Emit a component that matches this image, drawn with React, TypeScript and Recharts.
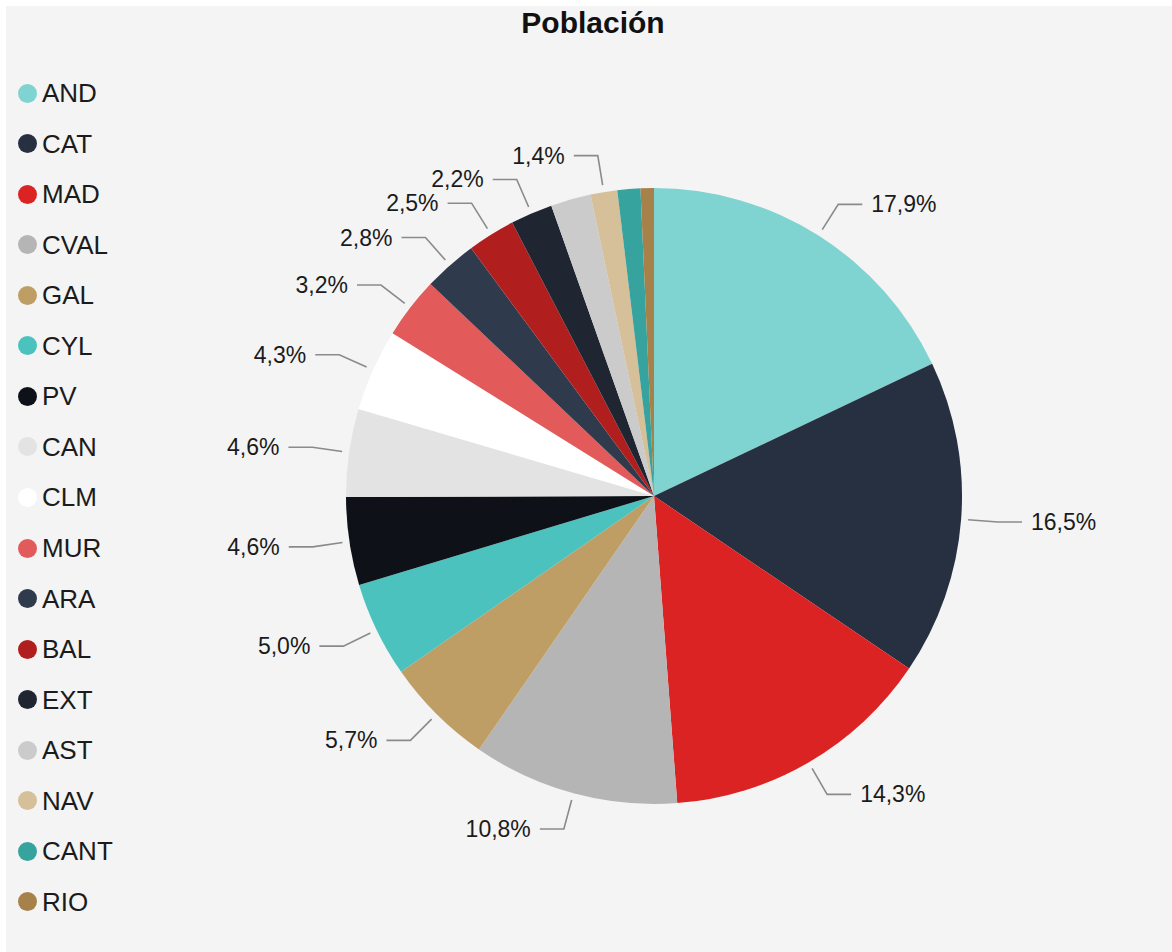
import React from 'react';
import { PieChart, Pie, Cell, Legend } from 'recharts';

const regions = ['AND', 'CAT', 'MAD', 'CVAL', 'GAL', 'CYL', 'PV', 'CAN', 'CLM', 'MUR', 'ARA', 'BAL', 'EXT', 'AST', 'NAV', 'CANT', 'RIO'];
const shares = [17.9, 16.5, 14.3, 10.8, 5.7, 5.0, 4.6, 4.6, 4.3, 3.2, 2.8, 2.5, 2.2, 2.1, 1.4, 1.2, 0.7];
const colors = ['#7fd3d0', '#263040', '#dc2323', '#b5b5b5', '#bf9e66', '#4bc2be', '#0e1218', '#e3e3e3', '#ffffff', '#e35a5a', '#2f3b4c', '#b11e1e', '#1f2531', '#cbcbcb', '#d5c09a', '#36a39f', '#a6824a'];
const hiddenLabels = ['AST', 'CANT', 'RIO'];

const data = regions.map((name, i) => ({ name, value: shares[i] }));

const FONT = '"Liberation Sans", Arial, Helvetica, sans-serif';
const RAD = Math.PI / 180;

const fmt = (v: number) => v.toFixed(1).replace('.', ',') + '%';

const renderLabel = (props: any) => {
  const { cx, cy, midAngle, outerRadius, name, value } = props;
  if (hiddenLabels.includes(name)) return null;
  const cos = Math.cos(-midAngle * RAD);
  const sin = Math.sin(-midAngle * RAD);
  const sx = cx + (outerRadius + 7) * cos;
  const sy = cy + (outerRadius + 7) * sin;
  const ex = cx + (outerRadius + 37) * cos;
  const ey = cy + (outerRadius + 37) * sin;
  const right = cos >= 0;
  const hx = ex + (right ? 24 : -24);
  const tx = hx + (right ? 9 : -9);
  return (
    <g>
      <polyline points={`${sx},${sy} ${ex},${ey} ${hx},${ey}`} fill="none" stroke="#8a8a8a" strokeWidth={1.6} />
      <text x={tx} y={ey} textAnchor={right ? 'start' : 'end'} dominantBaseline="central" fontSize={23} fill="#1b1b1b" fontFamily={FONT}>
        {fmt(value)}
      </text>
    </g>
  );
};

const renderLegend = () => (
  <div style={{ fontFamily: FONT }}>
    {regions.map((r, i) => (
      <div key={r} style={{ position: 'absolute', left: 12, top: 93 - 6 + i * 50.56 - 13, height: 26, display: 'flex', alignItems: 'center' }}>
        <span style={{ width: 19, height: 19, borderRadius: '50%', background: colors[i], display: 'inline-block' }} />
        <span style={{ marginLeft: 5, fontSize: 26, color: '#1b1b1b', lineHeight: '26px' }}>{r}</span>
      </div>
    ))}
  </div>
);

export default function App() {
  return (
    <div style={{ position: 'absolute', left: 6, top: 6, width: 1166, height: 946, background: '#f4f4f4' }}>
      <div style={{ position: 'absolute', left: 0, width: 1174, top: 0, textAlign: 'center', fontFamily: FONT, fontWeight: 'bold', fontSize: 30, color: '#111', lineHeight: '34px', paddingTop: 0 }}>
        Población
      </div>
      <PieChart width={1166} height={946} margin={{ top: 0, right: 0, bottom: 0, left: 0 }} style={{ position: 'absolute', left: 0, top: 0 }}>
        <Legend content={renderLegend} wrapperStyle={{ position: 'absolute', left: 0, top: 0, width: 0, height: 0 }} />
        <Pie
          data={data}
          dataKey="value"
          nameKey="name"
          cx={648}
          cy={490}
          outerRadius={308}
          startAngle={90}
          endAngle={-270}
          stroke="none"
          label={renderLabel}
          labelLine={false}
          isAnimationActive={false}
        >
          {data.map((d, i) => (
            <Cell key={d.name} fill={colors[i]} />
          ))}
        </Pie>
      </PieChart>
    </div>
  );
}
